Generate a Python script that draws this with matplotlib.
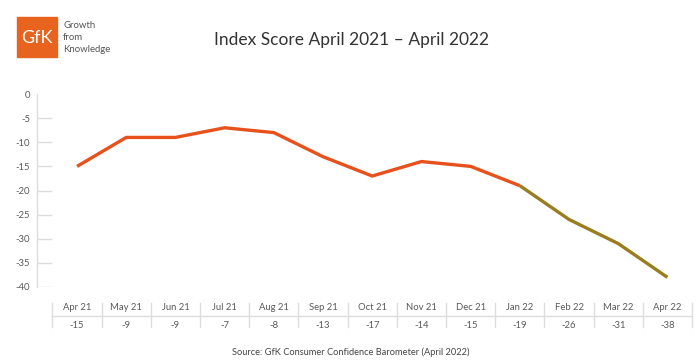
import matplotlib
matplotlib.use("Agg")
import matplotlib.pyplot as plt
from matplotlib.patches import Rectangle
import matplotlib.transforms as mtransforms

months = ["Apr 21", "May 21", "Jun 21", "Jul 21", "Aug 21", "Sep 21", "Oct 21",
          "Nov 21", "Dec 21", "Jan 22", "Feb 22", "Mar 22", "Apr 22"]
scores = [-15, -9, -9, -7, -8, -13, -17, -14, -15, -19, -26, -31, -38]
split_index = 9  # Jan 22: colour changes from here
yticks = [0, -5, -10, -15, -20, -25, -30, -35, -40]

W, H = 698, 362
fig = plt.figure(figsize=(W / 100, H / 100), dpi=100)
plt.rcParams['font.family'] = ['Lato', 'DejaVu Sans']

def px(x0, y0, x1, y1):
    return [x0 / W, 1 - y1 / H, (x1 - x0) / W, (y1 - y0) / H]

ax = fig.add_axes(px(37, 94, 692, 287))
n = len(months)
xs = list(range(n))
ax.set_xlim(-0.814, n - 0.5)
ax.set_ylim(-40, 0)

orange = "#E8501C"
olive = "#9A7D1E"
ax.plot(xs[:split_index + 1], scores[:split_index + 1], color=orange, lw=2.4,
        solid_capstyle='butt', solid_joinstyle='round', zorder=3)
ax.plot(xs[split_index:], scores[split_index:], color=olive, lw=2.4,
        solid_capstyle='butt', solid_joinstyle='round', zorder=3)

txt = "#5a5a5a"
for s in ["top", "right", "bottom"]:
    ax.spines[s].set_visible(False)
ax.spines["left"].set_color("#dddddd")
ax.spines["left"].set_linewidth(1)
ax.set_xticks([])
ax.set_yticks(yticks)
ax.set_yticklabels([str(v) for v in yticks], fontsize=6.8, color=txt)
ax.tick_params(axis='y', length=0, pad=5)
for v in yticks[1:]:
    ax.hlines(v, -0.814, -0.5, color="#dddddd", lw=1, zorder=1)

# table under the chart
trans = mtransforms.blended_transform_factory(ax.transData, fig.transFigure)
def fy(ypix):
    return 1 - ypix / H
tcol = "#dddddd"
for i in range(n + 1):
    ax.add_line(plt.Line2D([i - 0.5, i - 0.5], [fy(303), fy(327)], transform=trans,
                           color=tcol, lw=1, clip_on=False))
ax.add_line(plt.Line2D([-0.5, n - 0.5], [fy(316), fy(316)], transform=trans,
                       color=tcol, lw=1, clip_on=False))
for i, (m, s) in enumerate(zip(months, scores)):
    ax.text(i, fy(307), m, transform=trans, ha='center', va='center',
            fontsize=6.8, color=txt, clip_on=False)
    ax.text(i, fy(326), str(s), transform=trans, ha='center', va='center',
            fontsize=6.8, color=txt, clip_on=False)

fig.text(351 / W, fy(352), "Source: GfK Consumer Confidence Barometer (April 2022)",
         ha='center', va='center', fontsize=6.7, color="#444444")

fig.text(351 / W, fy(40), "Index Score April 2021 \u2013 April 2022",
         ha='center', va='center', fontsize=12.5, color="#333333")

# logo
fig.patches.append(Rectangle((17 / W, fy(57)), 40 / W, 40 / H, transform=fig.transFigure,
                             color="#E8641E", zorder=5))
fig.text(37 / W, fy(38), "GfK", ha='center', va='center', fontsize=13,
         color="white", zorder=6)
for t, yy in [("Growth", 26), ("from", 37.5), ("Knowledge", 49)]:
    fig.text(63 / W, fy(yy), t, ha='left', va='center', fontsize=6.9, color="#555555")

fig.savefig("out.png", dpi=100)
